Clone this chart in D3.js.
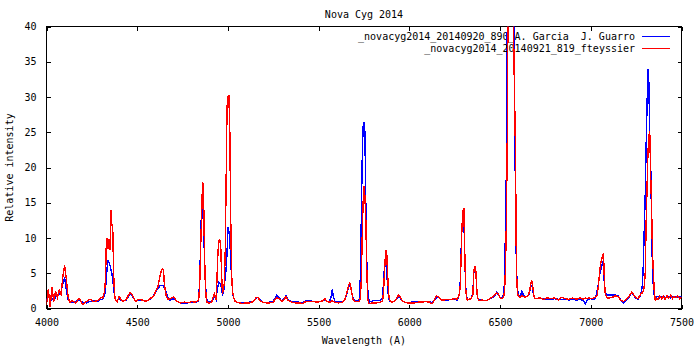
<!DOCTYPE html>
<html>
<head>
<meta charset="utf-8">
<script src="https://cdn.jsdelivr.net/npm/d3@7"></script>
<style>
  body { margin: 0; background: #fff; }
  text { font-family: "DejaVu Sans Mono", "Liberation Mono", monospace; font-size: 10px; fill: #000; }
</style>
</head>
<body>
<svg id="chart" width="700" height="350"></svg>
<script>
// ---------- DATA ----------
const chartTitle = "Nova Cyg 2014";
const xLabel = "Wavelength (A)";
const yLabel = "Relative intensity";
const seriesNames = [
  "_novacyg2014_20140920_890_A. Garcia  J. Guarro",
  "_novacyg2014_20140921_819_fteyssier"
];
const seriesColors = ["#0000ff", "#ff0000"];
const xTicks = [4000, 4500, 5000, 5500, 6000, 6500, 7000, 7500];
const yTicks = [0, 5, 10, 15, 20, 25, 30, 35, 40];

const wavelengths = [
  4000,4010,4020,4030,4040,4050,4060,4070,4080,4090,4100,4110,4120,4130,
  4140,4160,4180,4200,4220,4240,4260,4280,4300,
  4310,4320,4325,4330,4335,4340,4345,4350,4355,4360,4365,4370,4375,4380,4390,
  4400,4420,4440,4460,4470,4490,4510,4530,4550,4570,4590,4605,
  4615,4625,4635,4640,4645,4650,4660,4670,4680,4700,
  4720,4740,4760,4780,4800,4820,4835,
  4840,4845,4850,4855,4860,4865,4870,4875,4880,4885,4890,
  4900,4910,4920,4925,4935,4940,4945,4950,4955,4960,4965,4970,4975,4980,4985,4990,4995,5000,5005,5010,5015,5020,5025,5030,5040,
  5060,5080,5100,5120,5140,5155,5165,5175,5190,5210,5230,5250,5260,5270,5280,5295,5310,5320,5330,5350,5370,5390,5410,5430,5450,5470,5490,5510,
  5525,5535,5545,5560,5570,5575,5580,5590,5610,5630,5645,5655,5665,5670,5675,5680,5690,5700,5710,5720,
  5725,5730,5735,5740,5745,5750,5755,5760,5765,5770,5775,5780,
  5800,5820,5840,5850,5855,5860,5865,5870,5875,5880,5885,5890,5900,5915,5930,5940,5950,5960,5975,5990,
  6010,6030,6050,6070,6090,6110,6125,6140,6150,6160,6175,6190,6210,6230,6250,6265,6275,
  6280,6285,6290,6295,6300,6305,6310,6315,6320,6330,6340,
  6350,6355,6360,6365,6370,6375,6385,
  6400,6420,6440,6455,6470,6480,6490,6500,6510,6520,
  6525,6530,6535,6540,6545,6550,6555,6560,6565,6570,6575,6580,6585,6590,6595,6600,6610,
  6620,6635,6650,6660,6665,6670,6675,6680,6685,6690,6700,6720,6740,6760,6780,6800,6820,6840,6860,6880,6900,6920,6940,6960,6970,6980,6990,7000,
  7010,7025,7035,7045,7050,7055,7060,7065,7070,7075,7080,7090,7105,7120,7135,7150,7165,7180,7195,7210,7225,7235,7245,7260,7270,7280,
  7285,7290,7295,7300,7305,7310,7315,7320,7325,7330,7335,7340,7345,7350,7355,7360,
  7370,7380,7390,7400,7410,7420,7430,7440,7450,7460,7470,7480,7490,7500
];

// blue: 2014-09-20, A. Garcia / J. Guarro
const guarroValues = [
  1.0,2.2,0.8,1.5,1.2,1.6,1.8,2.0,2.4,3.5,4.4,2.5,1.2,0.9,
  0.9,1.0,1.2,0.9,0.8,1.0,1.1,1.0,1.3,
  1.3,1.8,2.6,4.5,6.0,6.9,6.5,6.1,5.6,5.0,4.2,3.0,1.8,1.2,1.1,
  1.4,1.0,1.2,2.0,1.9,1.1,1.2,1.1,1.1,1.3,1.8,2.5,
  2.8,3.2,3.3,3.3,3.1,3.0,2.3,1.5,1.2,1.4,
  1.0,0.8,0.8,0.8,0.9,0.9,1.0,
  1.8,4.5,9.7,14.8,13.5,12.4,8.0,4.0,2.0,1.1,0.9,
  0.9,0.9,1.4,1.8,1.3,2.5,3.2,3.7,3.6,3.3,2.8,2.0,2.2,3.0,4.5,5.6,7.8,11.5,11.0,10.0,7.0,4.5,2.6,1.6,1.0,
  0.8,0.8,0.8,0.9,1.0,1.4,1.6,1.3,0.9,0.8,0.9,1.0,1.5,1.9,1.6,1.1,1.4,1.8,1.3,1.0,0.9,0.9,0.8,1.1,1.1,1.0,1.0,1.0,
  1.1,1.3,1.0,1.0,1.8,2.7,1.8,1.0,0.9,0.9,1.2,2.0,3.0,3.3,3.2,2.5,1.4,1.2,1.0,1.1,
  1.5,4.5,12.5,21.0,25.8,26.5,25.0,15.0,7.0,3.0,1.5,0.9,
  1.1,1.1,1.1,1.4,2.6,4.8,6.8,6.5,5.4,3.2,1.6,1.1,1.0,1.0,1.3,1.7,1.5,1.1,0.9,0.8,
  0.9,0.9,0.9,1.0,1.0,1.0,0.8,1.2,1.6,1.7,1.2,1.1,1.2,1.3,1.3,1.2,2.0,
  3.5,8.0,11.5,13.6,13.0,8.0,3.2,1.8,1.3,1.3,1.4,
  2.2,5.0,5.8,5.6,3.5,1.6,1.2,
  1.2,1.1,1.3,1.5,1.8,2.3,2.0,1.6,1.5,2.0,
  4.0,12.0,20.0,42.0,55.0,62.0,65.0,64.0,60.0,52.0,44.0,30.0,15.0,6.0,3.0,2.0,1.6,
  2.4,1.6,1.7,2.0,2.6,3.2,3.3,2.8,1.8,1.5,1.4,1.4,1.4,1.3,1.3,1.4,1.3,1.3,1.3,1.2,1.3,1.2,1.3,1.1,0.7,1.2,1.3,1.4,
  1.3,1.4,2.5,4.0,5.0,5.4,6.0,6.4,5.8,3.5,2.2,1.9,1.9,1.9,1.9,1.8,1.2,0.8,1.2,1.6,2.2,2.0,1.5,1.3,1.7,2.5,
  3.5,6.5,11.5,16.0,23.0,28.7,34.0,32.0,24.5,21.0,12.0,5.5,3.0,1.8,1.5,1.6,
  1.7,1.5,1.6,1.7,1.6,1.6,1.7,1.5,1.6,1.7,1.6,1.6,1.7,1.6
];

// red: 2014-09-21, F. Teyssier
const fteyssierValues = [
  0.5,2.8,0.2,3.0,1.0,2.4,1.5,2.6,2.0,4.5,6.1,4.0,1.5,0.8,
  1.1,0.8,1.4,0.6,1.0,1.3,1.0,1.1,1.6,
  1.5,2.4,4.0,9.5,10.0,8.5,9.8,8.3,14.0,12.0,11.5,5.0,2.0,1.2,1.0,
  1.7,1.0,1.3,2.3,2.0,1.0,1.3,1.2,1.0,1.4,1.7,2.6,
  3.2,4.6,5.5,5.6,5.4,3.3,1.8,1.3,1.4,1.6,
  1.0,0.8,0.9,0.8,1.0,0.9,1.1,
  1.5,4.0,9.0,13.0,18.0,17.5,9.0,3.8,1.5,0.9,0.8,
  0.8,0.9,1.7,2.1,1.2,4.5,8.0,9.6,9.7,9.0,5.0,2.0,2.8,3.5,8.0,18.0,28.5,30.0,30.2,26.0,13.5,5.0,2.6,1.7,1.0,
  0.8,0.7,0.8,0.8,1.0,1.5,1.6,1.2,0.9,0.8,0.8,0.9,1.3,1.6,1.4,1.0,1.3,1.7,1.2,0.9,0.8,0.8,0.7,1.0,1.0,1.0,0.9,1.0,
  1.1,1.4,1.0,0.9,1.0,1.1,1.0,0.9,0.8,0.9,1.3,2.2,3.3,3.6,3.4,2.6,1.3,1.0,1.0,1.0,
  1.0,1.5,4.0,10.0,15.0,17.4,16.0,12.5,6.0,1.5,0.8,0.7,
  0.8,0.8,0.9,1.0,1.5,3.5,6.2,8.3,8.0,5.0,2.4,1.2,0.9,1.0,1.4,1.9,1.6,1.1,0.9,0.8,
  0.8,0.8,0.9,0.9,1.0,0.9,0.7,1.3,1.8,1.6,1.2,1.2,1.3,1.3,1.4,1.3,2.0,
  3.0,7.0,11.5,13.8,14.3,8.5,3.0,1.6,1.2,1.3,1.4,
  2.0,5.2,6.0,6.0,3.4,1.5,1.1,
  1.2,1.1,1.3,1.6,1.9,2.2,2.1,1.5,1.4,1.7,
  2.5,6.0,12.5,25.0,48.0,58.0,62.0,63.0,60.0,50.0,38.0,30.0,22.0,5.5,2.5,1.8,1.5,
  1.8,1.6,1.7,2.2,2.8,3.6,3.9,3.2,2.0,1.5,1.4,1.5,1.3,1.5,1.4,1.5,1.2,1.6,1.4,1.3,1.5,1.3,1.5,1.3,1.5,1.4,1.5,1.4,
  1.4,1.6,1.8,4.0,5.5,6.4,7.0,7.4,7.9,4.0,2.0,1.5,1.5,1.6,1.8,1.7,1.2,1.0,1.3,1.7,2.3,2.0,1.6,1.4,1.8,2.2,
  2.2,2.5,3.2,5.0,12.0,17.0,22.0,24.4,25.2,19.0,14.5,8.0,5.0,2.5,1.2,1.4,
  1.3,1.8,1.4,1.7,1.3,1.8,1.5,1.9,1.4,1.7,1.5,1.8,1.4,1.6
];

// ---------- CHART ----------
const svg = d3.select("#chart");
const plot = { left: 46.5, right: 681.5, top: 26.5, bottom: 308.5 };

const x = d3.scaleLinear().domain([4000, 7500]).range([plot.left, plot.right]);
const y = d3.scaleLinear().domain([0, 40]).range([plot.bottom, plot.top]);
const tickLen = 4;

svg.append("defs").append("clipPath").attr("id", "clip")
  .append("rect")
  .attr("x", plot.left).attr("y", plot.top)
  .attr("width", plot.right - plot.left).attr("height", plot.bottom - plot.top);

const axBottom = svg.append("g").attr("transform", `translate(0,${plot.bottom})`)
  .call(d3.axisBottom(x).tickValues(xTicks).tickFormat(d3.format("d")).tickSizeInner(-tickLen).tickSizeOuter(0).tickPadding(10));
const axTop = svg.append("g").attr("transform", `translate(0,${plot.top})`)
  .call(d3.axisTop(x).tickValues(xTicks).tickFormat("").tickSizeInner(-tickLen).tickSizeOuter(0));
const axLeft = svg.append("g").attr("transform", `translate(${plot.left},0)`)
  .call(d3.axisLeft(y).tickValues(yTicks).tickFormat(d3.format("d")).tickSizeInner(-tickLen).tickSizeOuter(0).tickPadding(10));
const axRight = svg.append("g").attr("transform", `translate(${plot.right},0)`)
  .call(d3.axisRight(y).tickValues(yTicks).tickFormat("").tickSizeInner(-tickLen).tickSizeOuter(0));

[axBottom, axTop, axLeft, axRight].forEach(g => {
  g.select(".domain").remove();
  g.selectAll(".tick line").attr("stroke", "#000").attr("shape-rendering", "crispEdges");
  g.selectAll("text").attr("font-family", null).attr("font-size", null).style("fill", "#000");
});
axBottom.selectAll("text").attr("dy", "0.71em");

svg.append("rect")
  .attr("x", plot.left).attr("y", plot.top)
  .attr("width", plot.right - plot.left).attr("height", plot.bottom - plot.top)
  .attr("fill", "none").attr("stroke", "#000").attr("shape-rendering", "crispEdges");

svg.append("text").attr("x", (plot.left + plot.right) / 2).attr("y", 18)
  .attr("text-anchor", "middle").text(chartTitle);
svg.append("text").attr("x", (plot.left + plot.right) / 2).attr("y", 344)
  .attr("text-anchor", "middle").text(xLabel);
svg.append("text")
  .attr("transform", `translate(13,${(plot.top + plot.bottom) / 2}) rotate(-90)`)
  .attr("text-anchor", "middle").text(yLabel);

const series = [guarroValues, fteyssierValues];
const line = d3.line().x((d, i) => x(wavelengths[i])).y(d => y(d));
const legendRows = [36, 48];

series.forEach((vals, s) => {
  svg.append("text")
    .attr("x", 635).attr("y", legendRows[s]).attr("dy", "0.35em")
    .attr("text-anchor", "end").attr("xml:space", "preserve")
    .style("white-space", "pre")
    .text(seriesNames[s]);
  svg.append("line")
    .attr("x1", 642).attr("x2", 670)
    .attr("y1", legendRows[s] + 0.5).attr("y2", legendRows[s] + 0.5)
    .attr("stroke", seriesColors[s]).attr("stroke-width", 1)
    .attr("shape-rendering", "crispEdges");
  svg.append("path")
    .datum(vals)
    .attr("clip-path", "url(#clip)")
    .attr("fill", "none")
    .attr("stroke", seriesColors[s])
    .attr("stroke-width", 1.4)
    .attr("shape-rendering", "crispEdges")
    .attr("d", line);
});
</script>
</body>
</html>
